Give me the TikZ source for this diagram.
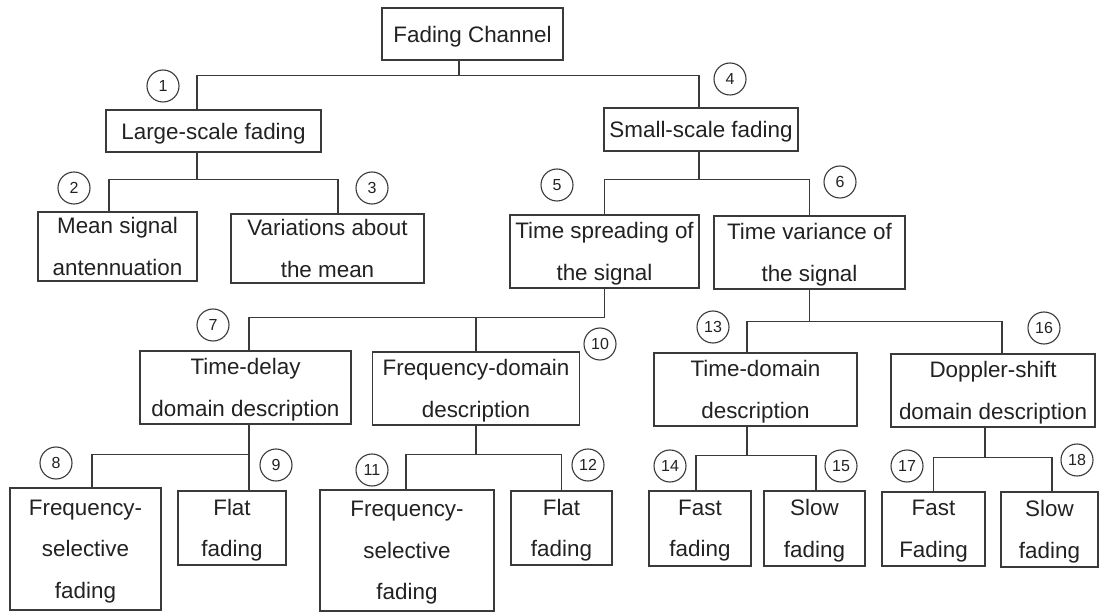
\documentclass[tikz,border=0pt]{standalone}
\usepackage{fontspec}
\setmainfont{Liberation Sans}
\definecolor{linec}{HTML}{3A3A3A}
\definecolor{textc}{HTML}{222222}
\begin{document}
\begin{tikzpicture}[x=1pt,y=-1pt,
  box/.style={draw=linec, line width=1.1pt, inner sep=0pt, align=center, text=textc,
    font=\fontsize{22.4}{41.5}\selectfont, text depth=0pt},
  num/.style={draw=linec, circle, line width=1.1pt, minimum size=32pt, inner sep=0pt,
    text=textc, font=\fontsize{16}{16}\selectfont},
  link/.style={draw=linec, line width=1.1pt}]
\fill[white] (0,0) rectangle (1114,612);
\useasboundingbox (0,0) rectangle (1114,612);

% level 0
\node[box, minimum width=181pt, minimum height=52pt] (fc) at (472.5,34) {Fading Channel};
% level 1
\node[box, minimum width=215pt, minimum height=42pt] (lsf) at (213.5,131) {Large-scale fading};
\node[box, minimum width=194pt, minimum height=43pt] (ssf) at (701,129.5) {Small-scale fading};
% level 2
\node[box, minimum width=159pt, minimum height=69pt] (mean) at (117.5,246.5) {Mean signal\\antennuation};
\node[box, minimum width=193pt, minimum height=69pt] (var) at (327.5,248.5) {Variations about\\the mean};
\node[box, minimum width=189pt, minimum height=73pt] (ts) at (604.5,251.5) {Time spreading of\\the signal};
\node[box, minimum width=191pt, minimum height=73pt] (tv) at (809.5,252.5) {Time variance of\\the signal};
% level 3
\node[box, minimum width=211pt, minimum height=73pt] (td) at (245.5,387.5) {Time-delay\\domain description};
\node[box, minimum width=207pt, minimum height=73pt] (fd) at (476,388.5) {Frequency-domain\\description};
\node[box, minimum width=203pt, minimum height=73pt] (tdm) at (755.5,389.5) {Time-domain\\description};
\node[box, minimum width=204pt, minimum height=73pt] (dop) at (993,390.5) {Doppler-shift\\domain description};
% level 4
\node[box, minimum width=151pt, minimum height=122pt] (fs1) at (85.5,549) {Frequency-\\selective\\fading};
\node[box, minimum width=108pt, minimum height=74pt] (flat1) at (232,528) {Flat\\fading};
\node[box, minimum width=174pt, minimum height=121pt] (fs2) at (407,550.5) {Frequency-\\selective\\fading};
\node[box, minimum width=101pt, minimum height=74pt] (flat2) at (561.5,528) {Flat\\fading};
\node[box, minimum width=102pt, minimum height=75pt] (fast1) at (700,528.5) {Fast\\fading};
\node[box, minimum width=101pt, minimum height=75pt] (slow1) at (814.5,528.5) {Slow\\fading};
\node[box, minimum width=103pt, minimum height=74pt] (fast2) at (933.5,529) {Fast\\Fading};
\node[box, minimum width=97pt, minimum height=75pt] (slow2) at (1049.5,529.5) {Slow\\fading};

% connectors
\draw[link] ([xshift=-13.5pt]fc.south) -- ++(0,15) -| ([xshift=-16.5pt]lsf.north);
\draw[link] ([xshift=-13.5pt]fc.south) -- ++(0,15) -| ([xshift=-2pt]ssf.north);

\draw[link] ([xshift=-16.5pt]lsf.south) -- ++(0,27) -| ([xshift=-8.5pt]mean.north);
\draw[link] ([xshift=-16.5pt]lsf.south) -- ++(0,27) -| ([xshift=10.5pt]var.north);

\draw[link] ([xshift=-2pt]ssf.south) -- ++(0,28) -| (ts.north);
\draw[link] ([xshift=-2pt]ssf.south) -- ++(0,28) -| (tv.north);

\draw[link] (ts.south) -- ++(0,29) -| ([xshift=3.5pt]td.north);
\draw[link] (ts.south) -- ++(0,29) -| (fd.north);

\draw[link] (tv.south) -- ++(0,32) -| ([xshift=-8.5pt]tdm.north);
\draw[link] (tv.south) -- ++(0,32) -| ([xshift=9pt]dop.north);

\draw[link] ([xshift=3.5pt]td.south) -- ++(0,30) -| ([xshift=6.5pt]fs1.north);
\draw[link] ([xshift=3.5pt]td.south) -- ++(0,30) -| ([xshift=17pt]flat1.north);

\draw[link] (fd.south) -- ++(0,29) -| ([xshift=-1pt]fs2.north);
\draw[link] (fd.south) -- ++(0,29) -| (flat2.north);

\draw[link] ([xshift=-8.5pt]tdm.south) -- ++(0,29) -| ([xshift=-4pt]fast1.north);
\draw[link] ([xshift=-8.5pt]tdm.south) -- ++(0,29) -| ([xshift=1.5pt]slow1.north);

\draw[link] ([xshift=-8pt]dop.south) -- ++(0,30) -| (fast2.north);
\draw[link] ([xshift=-8pt]dop.south) -- ++(0,30) -| ([xshift=2.5pt]slow2.north);

% numbered circles
\node[num] (n1) at (163,86) {1};
\node[num] (n2) at (74,188) {2};
\node[num] (n3) at (372,188) {3};
\node[num] (n4) at (730,79) {4};
\node[num] (n5) at (557,185) {5};
\node[num] (n6) at (840,182) {6};
\node[num] (n7) at (213,325) {7};
\node[num] (n8) at (56,463) {8};
\node[num] (n9) at (276,465) {9};
\node[num] (n10) at (600,344) {10};
\node[num] (n11) at (372,470) {11};
\node[num] (n12) at (588,465) {12};
\node[num] (n13) at (713,327) {13};
\node[num] (n14) at (670,466) {14};
\node[num] (n15) at (841,466) {15};
\node[num] (n16) at (1044,328) {16};
\node[num] (n17) at (907,466) {17};
\node[num] (n18) at (1077,460) {18};
\end{tikzpicture}
\end{document}
